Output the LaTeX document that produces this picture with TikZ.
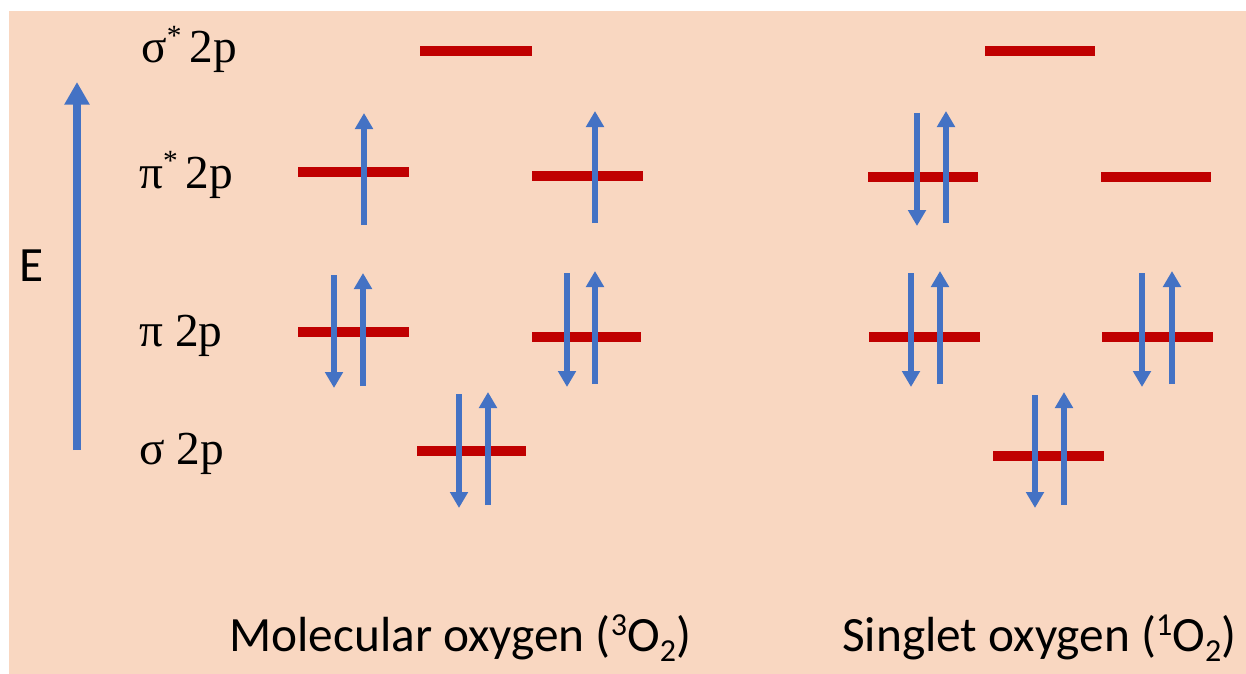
\documentclass[tikz,border=0pt]{standalone}
\usepackage{fontspec}
\setmainfont{Liberation Serif}
\newfontfamily\calibri{Carlito}
\usetikzlibrary{arrows.meta}

\definecolor{panel}{RGB}{249,215,193}
\definecolor{levelred}{RGB}{192,0,0}
\definecolor{spinblue}{RGB}{68,114,196}

% small raised / lowered indices inside a label
\newcommand\upidx[1]{\raisebox{0.32em}{\fontsize{24}{24}\selectfont #1}}
\newcommand\downidx[1]{\raisebox{-0.22em}{\fontsize{24}{24}\selectfont #1}}
\newcommand\staridx{\raisebox{0.38em}{\fontsize{22}{22}\selectfont *}}

% an orbital level: name, left x, right x, y
\newcommand\orbital[4]{%
  \coordinate (#1-l) at (#2,#4);
  \coordinate (#1-r) at (#3,#4);
  \draw[level] (#1-l) -- (#1-r);}
% an electron spin: name, x, tail y, head y
\newcommand\electron[4]{%
  \coordinate (#1-t) at (#2,#3);
  \coordinate (#1-h) at (#2,#4);
  \draw[spinarrow] (#1-t) -- (#1-h);}

\begin{document}
\begin{tikzpicture}[x=0.75pt,y=-0.75pt,
  level/.style={draw=levelred,line width=7pt},
  spinarrow/.style={draw=spinblue,line width=4.1pt,
    -{Triangle[width=13pt,length=12pt]}},
  energy/.style={draw=spinblue,line width=6.4pt,
    -{Triangle[width=18pt,length=17pt]}},
  orblabel/.style={anchor=base west,inner sep=0pt,font=\fontsize{35.5}{35.5}\selectfont},
  caption/.style={anchor=base west,inner sep=0pt,font=\calibri\fontsize{37}{37}\selectfont}]

\useasboundingbox (0,0) rectangle (1246,674);
\fill[white] (0,0) rectangle (1246,674);
\fill[panel] (9,11) rectangle (1246,674);

% energy axis
\coordinate (Ebot) at (77,450);
\coordinate (Etop) at (77,82);
\draw[energy] (Ebot) -- (Etop);
\node[caption] (Elabel) at (19,281) {E};

% orbital names
\node[orblabel] (lsigs) at (141,63) {σ\staridx\,2p};
\node[orblabel] (lpis)  at (139,188) {π\staridx\,2p};
\node[orblabel] (lpi)   at (139,346) {π 2p};
\node[orblabel] (lsig)  at (139,464) {σ 2p};

% triplet ground state
\orbital{Tss}{420}{532}{51}
\orbital{TpsA}{298}{409}{172}
\electron{TpsAu}{364}{225}{113}
\orbital{TpsB}{532}{643}{176}
\electron{TpsBu}{595}{223}{111}
\orbital{TpA}{298}{409}{332}
\electron{TpAd}{334}{275}{388}
\electron{TpAu}{363}{386}{273}
\orbital{TpB}{532}{641}{337}
\electron{TpBd}{567}{273}{387}
\electron{TpBu}{595}{384}{271}
\orbital{Ts}{417}{526}{451}
\electron{Tsd}{459}{394}{508}
\electron{Tsu}{488}{505}{392}

% singlet state
\orbital{Sss}{985}{1095}{51}
\orbital{SpsA}{868}{978}{177}
\electron{SpsAd}{917}{113}{226}
\electron{SpsAu}{946}{223}{111}
\orbital{SpsB}{1101}{1211}{177}
\orbital{SpA}{869}{980}{337}
\electron{SpAd}{911}{273}{387}
\electron{SpAu}{940}{384}{271}
\orbital{SpB}{1102}{1213}{337}
\electron{SpBd}{1142}{273}{387}
\electron{SpBu}{1172}{384}{271}
\orbital{Ss}{993}{1104}{456}
\electron{Ssd}{1035}{395}{508}
\electron{Ssu}{1064}{505}{392}

% state names
\node[caption] (triplet) at (229,651) {Molecular oxygen (\upidx{3}O\downidx{2})};
\node[caption] (singlet) at (842,651) {Singlet oxygen (\upidx{1}O\downidx{2})};
\end{tikzpicture}
\end{document}
